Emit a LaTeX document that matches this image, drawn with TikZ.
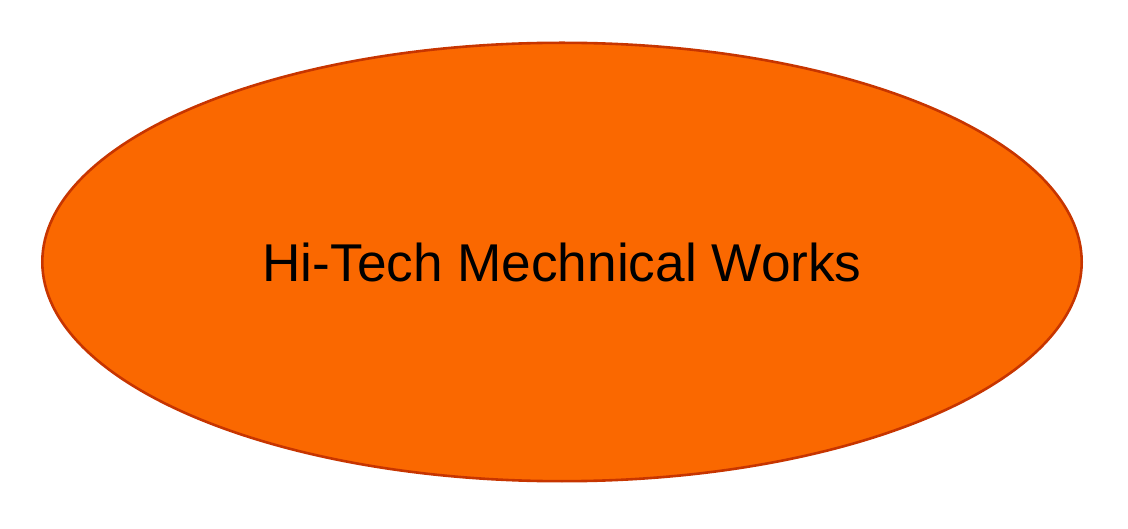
\documentclass[tikz,border=0pt]{standalone}
\usepackage{fontspec}
\setmainfont{Liberation Sans}
\usepackage{xcolor}
\usepackage{tikz}
\usetikzlibrary{shapes.geometric}
\definecolor{orangefill}{HTML}{FA6800}
\definecolor{orangeline}{HTML}{C73500}

\begin{document}
\begin{tikzpicture}[x=1pt, y=1pt]
            \tikzset{
                company/.style={draw = orangeline, fill = orangefill, shape = ellipse, line width = 2.6pt,
                    inner sep = 0pt, minimum width = 1039.4pt, minimum height = 438.4pt,
                    font = \fontsize{53.2}{60}\selectfont}
            }
            \useasboundingbox (0,0) rectangle (1128,528);
            \node[company] (W) at (562,266) {Hi-Tech Mechnical Works};
        \end{tikzpicture}
\end{document}
